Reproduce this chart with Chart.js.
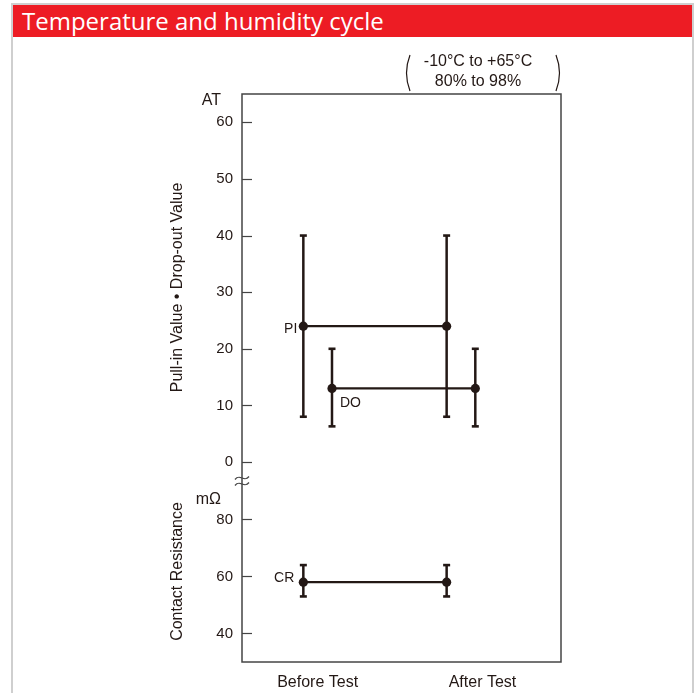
<!DOCTYPE html>
<html>
<head>
<meta charset="utf-8">
<script src="https://cdn.jsdelivr.net/npm/chart.js@4.4.1/dist/chart.umd.min.js"></script>
<style>
  html, body { margin: 0; padding: 0; background: #fff; }
  body { width: 698px; height: 693px; position: relative; overflow: hidden; }
  #box { position: absolute; left: 11px; top: 3px; width: 679px; height: 700px;
         border: 2px solid #cfcfcf; border-bottom: none; }
  #header { height: 32px; background: #ed1c24; color: #fff; padding-left: 9px;
            font: 24px 'Open Sans', sans-serif; line-height: 32px; white-space: nowrap; }
  #chart { position: absolute; left: 0; top: 0; }
</style>
</head>
<body>
<div id="box"><div id="header">Temperature and humidity cycle</div></div>
<canvas id="chart" width="698" height="693"></canvas>
<script>
// values
const stages = ['Before Test', 'After Test'];
const piMean = [24, 24];
const piLow = [8, 8];
const piHigh = [40, 40];
const doMean = [13, 13];
const doLow = [6.3, 6.3];
const doHigh = [20, 20];
const crMean = [58, 58];
const crLow = [53, 53];
const crHigh = [64, 64];
const atTicks = [0, 10, 20, 30, 40, 50, 60];
const crTicks = [40, 60, 80];
const conditionLines = ['-10°C to +65°C', '80% to 98%'];

const INK = '#231815';
const FONT = "'Liberation Sans', Arial, sans-serif";
const DO_SHIFT = 0.2;          // drop-out marks sit a little right of pull-in
const LABEL_AT = [0.1, 1.25];  // where the stage names sit on the x scale

function meanSet(name, mean, shift, axis) {
    return {
        label: name, yAxisID: axis, showLine: true,
        data: mean.map((v, i) => ({ x: i + shift, y: v })),
        borderColor: INK, borderWidth: 2.3, backgroundColor: INK,
        pointRadius: 4.6, pointBorderWidth: 0, order: 0
    };
}

function rangeSets(name, low, high, shift, axis) {
    return low.map((lo, i) => ({
        label: name + ' ' + stages[i], yAxisID: axis, showLine: true,
        data: [{ x: i + shift, y: lo }, { x: i + shift, y: high[i] }],
        borderColor: INK, borderWidth: 2.5,
        pointStyle: 'line', pointRadius: 3.5, pointBorderWidth: 2.6, pointBorderColor: INK,
        order: 1
    }));
}

const datasets = [
    ...rangeSets('PI', piLow, piHigh, 0, 'yAT'),
    ...rangeSets('DO', doLow, doHigh, DO_SHIFT, 'yAT'),
    ...rangeSets('CR', crLow, crHigh, 0, 'yCR'),
    meanSet('PI', piMean, 0, 'yAT'),
    meanSet('DO', doMean, DO_SHIFT, 'yAT'),
    meanSet('CR', crMean, 0, 'yCR')
];

function yAxis(min, max, ticks, weight, title) {
    return {
        type: 'linear', position: 'left', stack: 'left', stackWeight: weight,
        min: min, max: max,
        afterBuildTicks: s => { s.ticks = ticks.map(v => ({ value: v })); },
        afterFit: s => { s.width = 242; },
        grid: { display: false, drawTicks: false },
        border: { display: false },
        ticks: { padding: 9, color: INK, font: { family: FONT, size: 15 } },
        title: { display: true, text: title, color: INK, font: { family: FONT, size: 16 },
                 padding: { top: 168, bottom: 0 } }
    };
}

const decor = {
    id: 'decor',
    afterDraw(chart) {
        const { ctx, chartArea: a, scales } = chart;
        const at = scales.yAT, cr = scales.yCR, x = scales.x;
        ctx.save();

        // frame
        ctx.strokeStyle = '#444';
        ctx.lineWidth = 1.5;
        ctx.strokeRect(a.left, a.top, a.right - a.left, a.bottom - a.top);

        // tick marks point inward
        ctx.lineWidth = 1.2;
        [[at, atTicks], [cr, crTicks]].forEach(([s, list]) => list.forEach(v => {
            const y = Math.round(s.getPixelForValue(v)) + 0.5;
            ctx.beginPath();
            ctx.moveTo(a.left, y);
            ctx.lineTo(a.left + 10, y);
            ctx.stroke();
        }));

        // axis break
        const by = at.bottom;
        ctx.lineWidth = 1.3;
        [-3, 3].forEach(d => {
            ctx.beginPath();
            ctx.moveTo(a.left - 7, by + d + 1.5);
            ctx.bezierCurveTo(a.left - 2, by + d - 5, a.left + 2, by + d + 5, a.left + 7, by + d - 1.5);
            ctx.stroke();
        });

        ctx.fillStyle = INK;
        ctx.textBaseline = 'middle';

        // units
        ctx.font = '16px ' + FONT;
        ctx.textAlign = 'right';
        ctx.fillText('AT', a.left - 21, a.top + 7);
        ctx.fillText('mΩ', a.left - 21, cr.top + 19);

        // series names
        ctx.font = '14px ' + FONT;
        const x0 = x.getPixelForValue(0);
        ctx.fillText('PI', x0 - 6, at.getPixelForValue(piMean[0]) + 3);
        ctx.fillText('CR', x0 - 9, cr.getPixelForValue(crMean[0]) - 4);
        ctx.textAlign = 'left';
        ctx.fillText('DO', x.getPixelForValue(DO_SHIFT) + 8, at.getPixelForValue(doMean[0]) + 15);

        // test conditions
        const cx = a.right - 83;
        ctx.font = '16px ' + FONT;
        ctx.textAlign = 'center';
        conditionLines.forEach((t, i) => ctx.fillText(t, cx, a.top - 32 + i * 20));
        ctx.strokeStyle = INK;
        ctx.lineWidth = 1.2;
        [[-68, -1], [78, 1]].forEach(([dx, dir]) => {
            const px = cx + dx;
            ctx.beginPath();
            ctx.moveTo(px, a.top - 39);
            ctx.quadraticCurveTo(px + dir * 7, a.top - 21, px, a.top - 3);
            ctx.stroke();
        });

        ctx.restore();
    }
};

new Chart(document.getElementById('chart'), {
    type: 'scatter',
    data: { datasets: datasets },
    options: {
        responsive: false,
        animation: false,
        events: [],
        layout: { padding: { left: 0, right: 137, top: 94, bottom: 0 } },
        plugins: { legend: { display: false }, tooltip: { enabled: false } },
        scales: {
            x: {
                type: 'linear', min: -0.428, max: 1.798,
                afterBuildTicks: s => { s.ticks = LABEL_AT.map(v => ({ value: v })); },
                afterFit: s => { s.height = 31; },
                grid: { display: false, drawTicks: false },
                border: { display: false },
                ticks: { padding: 11, color: INK, font: { family: FONT, size: 16 },
                         maxRotation: 0, autoSkip: false,
                         callback: (v, i) => stages[i] }
            },
            yCR: yAxis(30, 93.5, crTicks, 181, 'Contact Resistance'),
            yAT: yAxis(-3.35, 65, atTicks, 387, 'Pull-in Value • Drop-out Value')
        }
    },
    plugins: [decor]
});
</script>
</body>
</html>
